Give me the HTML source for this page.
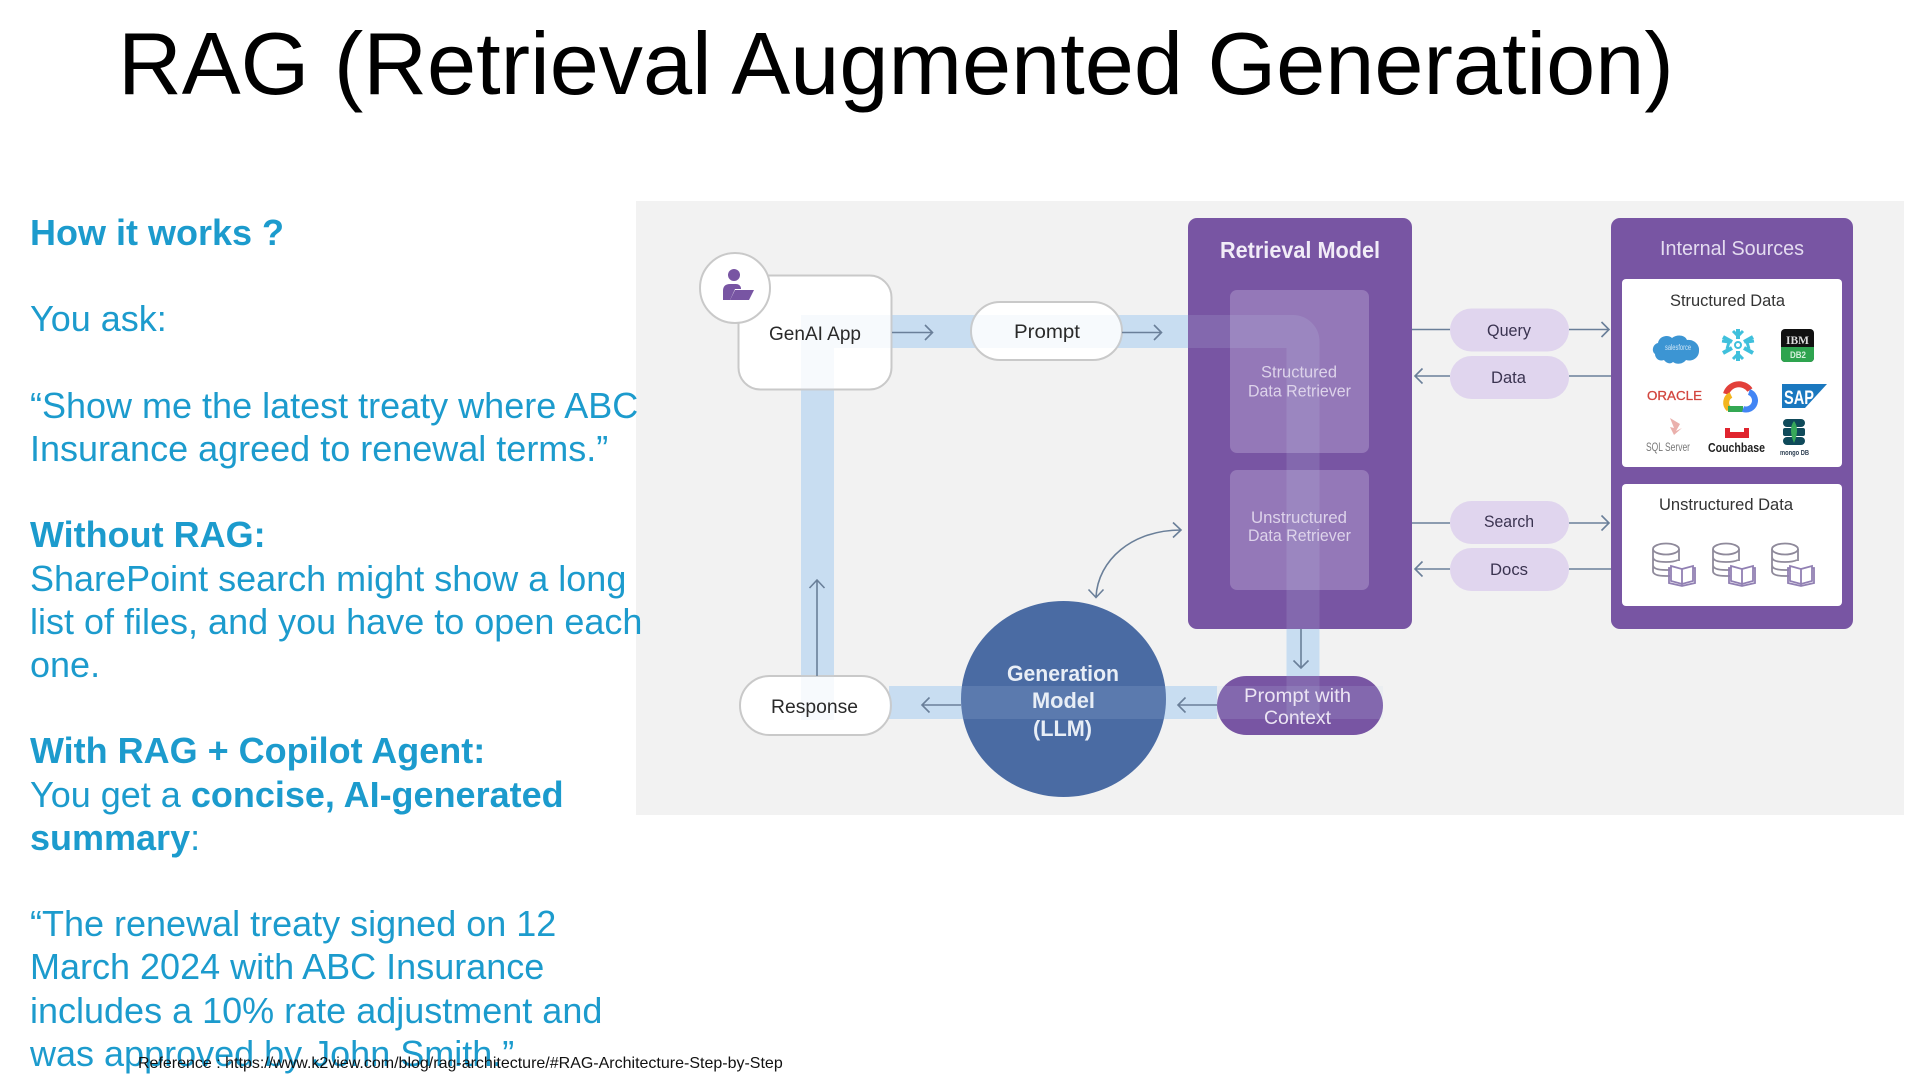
<!DOCTYPE html>
<html><head><meta charset="utf-8"><title>RAG</title>
<style>
html,body{margin:0;padding:0;background:#fff;width:1920px;height:1080px;overflow:hidden}
svg{position:absolute;left:0;top:0}
text{font-family:"Liberation Sans",Arial,sans-serif}
#left{position:absolute;left:30px;top:211px;font:36px/43.2px "Liberation Sans",Arial,sans-serif;color:#1c9bcd;white-space:nowrap}
#ref{position:absolute;left:138px;top:1055px;font:16px/18px "Liberation Sans",Arial,sans-serif;color:#111;white-space:nowrap}
</style></head><body>
<svg width="1920" height="1080" viewBox="0 0 1920 1080" xmlns="http://www.w3.org/2000/svg">
<text x="118" y="94" font-size="88.300" fill="#000">RAG (Retrieval Augmented Generation)</text>
<rect x="636" y="201" width="1268" height="614" fill="#f2f2f2"/>

<!-- bands under -->
<g fill="none" stroke="#c9def2" stroke-width="33">
<path d="M817.5 690V331.5H1293a10 10 0 0 1 10 10V700"/>
<path d="M889 702.5H1217"/>
</g>

<!-- Retrieval model -->
<rect x="1188" y="218" width="224" height="411" rx="9" fill="#7855a3"/>
<rect x="1230" y="290" width="139" height="163" rx="7" fill="#9478b8"/>
<rect x="1230" y="470" width="139" height="120" rx="7" fill="#9478b8"/>

<!-- Internal sources -->
<rect x="1611" y="218" width="242" height="411" rx="9" fill="#7855a3"/>
<rect x="1622" y="279" width="220" height="188" rx="4" fill="#fff"/>
<rect x="1622" y="484" width="220" height="122" rx="4" fill="#fff"/>

<!-- GenAI -->
<rect x="738.5" y="275.5" width="153" height="114" rx="22" fill="#fff" stroke="#c9c9c9" stroke-width="2"/>
<rect x="971" y="302" width="151" height="58" rx="29" fill="#fff" stroke="#c9c9c9" stroke-width="2"/>
<rect x="740" y="676" width="151" height="59" rx="29.5" fill="#fff" stroke="#c9c9c9" stroke-width="2"/>
<ellipse cx="1063.5" cy="699" rx="102.5" ry="98" fill="#4a6ba3"/>
<rect x="1217" y="676" width="166" height="59" rx="29.5" fill="#7855a3"/>

<!-- bands over -->
<g fill="none" stroke="#c9def2" stroke-width="33" stroke-opacity=".14">
<path d="M817.5 720V331.5H1293a10 10 0 0 1 10 10V720"/>
<path d="M889 702.5H1383"/>
</g>

<circle cx="735" cy="288" r="35" fill="#fff" stroke="#c9c9c9" stroke-width="2"/>
<circle cx="734" cy="275" r="6" fill="#7855a3"/>
<path d="M723 300V291q0-7 7-7h6q4 0 5 4v1h-6l-5 11z" fill="#7855a3"/>
<path d="M735 290h19l-5 10h-19z" fill="#7855a3"/>

<!-- pills -->
<g fill="#e0d5ee">
<rect x="1450" y="308.5" width="119" height="43" rx="21.5"/>
<rect x="1450" y="356" width="119" height="43" rx="21.5"/>
<rect x="1450" y="501" width="119" height="43" rx="21.5"/>
<rect x="1450" y="548" width="119" height="43" rx="21.5"/>
</g>

<!-- connectors -->
<g fill="none" stroke="#6a7f99" stroke-width="1.6">
<path d="M892 332.5H932M925 325l7.500 7.500-7.500 7.500"/>
<path d="M1122 332.500H1161M1154 325l7.500 7.500-7.500 7.500"/>
<path d="M817 676V580M809.500 588l7.500-8 7.500 8"/>
<path d="M1301 629V668M1293.500 660.500l7.500 7.500 7.500-7.500"/>
<path d="M961 705H922M929.500 697.500l-7.500 7.500 7.500 7.500"/>
<path d="M1217 705H1178M1185.500 697.500l-7.500 7.500 7.500 7.500"/>
<path d="M1096 597C1098 560 1132 530 1181 530M1173 522.500l8 7.500-8 7.500M1088.500 589.500l7.500 8 7.500-8"/>
<path d="M1412 329.500H1450M1569 329.500H1609M1601.500 322l7.500 7.500-7.500 7.500"/>
<path d="M1611 376H1569M1450 376H1415M1422.500 368.500l-7.500 7.500 7.500 7.500"/>
<path d="M1412 523H1450M1569 523H1609M1601.500 515.500l7.500 7.500-7.500 7.500"/>
<path d="M1611 569H1569M1450 569H1415M1422.500 561.500l-7.500 7.500 7.500 7.500"/>
</g>

<!-- labels -->
<g fill="#2a2a2a" font-size="19">
<text x="769" y="340" textLength="92" lengthAdjust="spacingAndGlyphs">GenAI App</text>
<text x="1014" y="338" textLength="66" lengthAdjust="spacingAndGlyphs">Prompt</text>
<text x="771" y="713" textLength="87" lengthAdjust="spacingAndGlyphs">Response</text>
</g>
<text x="1220" y="258" font-size="23" font-weight="bold" fill="#f1ecf7" textLength="160" lengthAdjust="spacingAndGlyphs">Retrieval Model</text>
<g fill="#ddd3ea" font-size="17">
<text x="1261" y="377.500" textLength="76" lengthAdjust="spacingAndGlyphs">Structured</text>
<text x="1248" y="396.500" textLength="103" lengthAdjust="spacingAndGlyphs">Data Retriever</text>
<text x="1251" y="523" textLength="96" lengthAdjust="spacingAndGlyphs">Unstructured</text>
<text x="1248" y="541" textLength="103" lengthAdjust="spacingAndGlyphs">Data Retriever</text>
</g>
<text x="1660" y="255" font-size="20" fill="#e4dcf0" textLength="144" lengthAdjust="spacingAndGlyphs">Internal Sources</text>
<g fill="#333" font-size="17">
<text x="1670" y="306" textLength="115" lengthAdjust="spacingAndGlyphs">Structured Data</text>
<text x="1659" y="510" textLength="134" lengthAdjust="spacingAndGlyphs">Unstructured Data</text>
</g>
<g fill="#3a3350" font-size="17">
<text x="1487" y="336" textLength="44" lengthAdjust="spacingAndGlyphs">Query</text>
<text x="1491" y="383" textLength="35" lengthAdjust="spacingAndGlyphs">Data</text>
<text x="1484" y="527" textLength="50" lengthAdjust="spacingAndGlyphs">Search</text>
<text x="1490" y="575" textLength="38" lengthAdjust="spacingAndGlyphs">Docs</text>
</g>
<g fill="#e8eef6" font-size="22" font-weight="bold">
<text x="1007" y="681" textLength="112" lengthAdjust="spacingAndGlyphs">Generation</text>
<text x="1032" y="708" textLength="63" lengthAdjust="spacingAndGlyphs">Model</text>
<text x="1033" y="736" textLength="59" lengthAdjust="spacingAndGlyphs">(LLM)</text>
</g>
<g fill="#ebe4f3" font-size="19">
<text x="1244" y="702" textLength="107" lengthAdjust="spacingAndGlyphs">Prompt with</text>
<text x="1264" y="724" textLength="67" lengthAdjust="spacingAndGlyphs">Context</text>
</g>

<!-- logos -->
<path d="M1664 360c-5 2-9-2-9-6-4-3-2-10 3-11 1-7 10-9 14-5 5-4 13-3 15 2 7-1 13 5 12 11 0 7-7 11-13 9-3 4-9 5-13 2-2 2-6 2-9-2z" fill="#3c95d3"/>
<text x="1665" y="350" font-size="8" fill="#cfe6f7" textLength="26" lengthAdjust="spacingAndGlyphs">salesforce</text>
<g stroke="#3fc0dc" stroke-width="4" fill="none">
<path d="M1738 329v10M1738 351v10M1723 337l9 5M1744 348l9 5M1723 353l9-5M1744 342l9-5"/>
<path stroke-width="3" d="M1733 331l5 5 5-5M1733 359l5-5 5 5M1722 341l7 1-2 7M1754 341l-7 1 2 7"/>
</g>
<circle cx="1738" cy="345" r="3" fill="none" stroke="#3fc0dc" stroke-width="2"/>
<rect x="1781" y="329" width="33" height="33" rx="4" fill="#111"/>
<path d="M1781 347h33v11a4 4 0 0 1-4 4h-25a4 4 0 0 1-4-4z" fill="#2ea44f"/>
<text x="1786" y="344" font-size="12" font-weight="bold" fill="#ddd" style="font-family:'Liberation Serif',serif" textLength="23" lengthAdjust="spacingAndGlyphs">IBM</text>
<text x="1790" y="358" font-size="9" font-weight="bold" fill="#d6f0dc" textLength="16" lengthAdjust="spacingAndGlyphs">DB2</text>
<text x="1647" y="400" font-size="13" fill="#d2463f" stroke="#d2463f" stroke-width=".3" textLength="55" lengthAdjust="spacingAndGlyphs">ORACLE</text>
<!-- google cloud -->
<g fill="none" stroke-width="6" transform="translate(-3 0)">
<path d="M1729 394A13.500 13.500 0 0 1 1753 390" stroke="#e2403a"/>
<path d="M1734 395A8.500 8.500 0 0 0 1732 409" stroke="#f3b51f"/>
<path d="M1731 409H1746" stroke="#34a853"/>
<path d="M1746 409A8.500 8.500 0 0 0 1752 392" stroke="#4285f4"/>
</g>
<path d="M1782 384h45l-22 24h-23z" fill="#1a78bf"/>
<text x="1784" y="404" font-size="19" font-weight="bold" fill="#fff" textLength="30" lengthAdjust="spacingAndGlyphs">SAP</text>
<path d="M1670 418l10 6-4 7 6-3-8 7-4-8 4 1z" fill="#eab0ac"/>
<text x="1646" y="451" font-size="12" fill="#777" textLength="44" lengthAdjust="spacingAndGlyphs">SQL Server</text>
<path d="M1725 428h5v4h14v-4h5v10h-24z" fill="#e0242e"/>
<text x="1708" y="452" font-size="13" font-weight="bold" fill="#222" textLength="57" lengthAdjust="spacingAndGlyphs">Couchbase</text>
<rect x="1783" y="419" width="22" height="8" rx="4" fill="#0f4a5a"/>
<rect x="1783" y="428" width="22" height="8" rx="2" fill="#0f4a5a"/>
<rect x="1783" y="437" width="22" height="8" rx="4" fill="#0f4a5a"/>
<path d="M1794 421c4 5 4 13 0 22-4-9-4-17 0-22z" fill="#37a85a"/>
<text x="1780" y="455" font-size="7" font-weight="bold" fill="#2d3f52" textLength="29" lengthAdjust="spacingAndGlyphs">mongo DB</text>

<!-- db+book icons -->
<defs><g id="db" fill="none" stroke="#8f8a9b" stroke-width="1.800">
<ellipse cx="14" cy="6" rx="13" ry="5.500"/>
<path d="M1 6V28q0 5 13 5h4M27 6v12M1 14q0 5 13 5 8 0 12-2M1 22q0 5 13 5h4"/>
<path stroke="#9180b3" d="M19 23l11 3v15l-11-3zM30 26l11-3v15l-11 3zM19 25h-2v15l13 3 13-3V25h-2"/>
</g></defs>
<use href="#db" x="1652" y="543"/>
<use href="#db" x="1712" y="543"/>
<use href="#db" x="1771" y="543"/>
</svg>

<div id="left"><b>How it works ?</b><br><br>You ask:<br><br>“Show me the latest treaty where ABC<br>Insurance agreed to renewal terms.”<br><br><b>Without RAG:</b><br>SharePoint search might show a long<br>list of files, and you have to open each<br>one.<br><br><b>With RAG + Copilot Agent:</b><br>You get a <b>concise, AI-generated</b><br><b>summary</b>:<br><br>“The renewal treaty signed on 12<br>March 2024 with ABC Insurance<br>includes a 10% rate adjustment and<br>was approved by John Smith.”</div>
<div id="ref">Reference : https://www.k2view.com/blog/rag-architecture/#RAG-Architecture-Step-by-Step</div>
</body></html>
